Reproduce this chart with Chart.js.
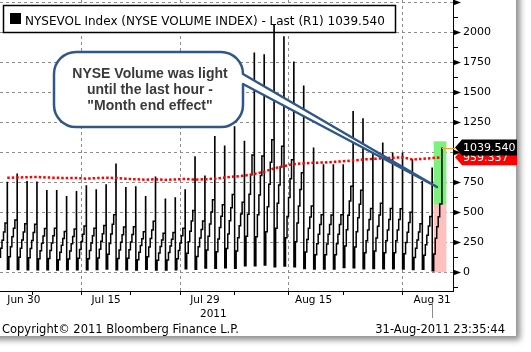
<!DOCTYPE html>
<html>
<head>
<meta charset="utf-8">
<script src="https://cdn.jsdelivr.net/npm/chart.js@4/dist/chart.umd.min.js"></script>
<style>
  html, body { margin: 0; padding: 0; background: #fff; }
  #wrap { width: 531px; height: 352px; }
</style>
</head>
<body>
<div id="wrap"><canvas id="volChart" width="531" height="352"></canvas></div>
<script>
// trading days on the axis (Jun 29 is only partly visible at the left edge)
const dayNames = ['Jun 29', 'Jun 30', 'Jul 1', 'Jul 5', 'Jul 6', 'Jul 7', 'Jul 8', 'Jul 11', 'Jul 12',
    'Jul 13', 'Jul 14', 'Jul 15', 'Jul 18', 'Jul 19', 'Jul 20', 'Jul 21', 'Jul 22', 'Jul 25', 'Jul 26',
    'Jul 27', 'Jul 28', 'Jul 29', 'Aug 1', 'Aug 2', 'Aug 3', 'Aug 4', 'Aug 5', 'Aug 8', 'Aug 9', 'Aug 10',
    'Aug 11', 'Aug 12', 'Aug 15', 'Aug 16', 'Aug 17', 'Aug 18', 'Aug 19', 'Aug 22', 'Aug 23', 'Aug 24',
    'Aug 25', 'Aug 26', 'Aug 29', 'Aug 30', 'Aug 31'];

// intraday sample times, one cumulative value per time per day
const sampleTimes = ['09:30', '10:30', '11:30', '12:30', '13:30', '14:30', '16:00'];

// cumulative NYSE volume through each day (millions)
const dayVolumes = [
    [22, 125, 200, 268, 335, 410, 748],
    [25, 130, 213, 297, 367, 436, 818],
    [24, 125, 200, 270, 335, 405, 755],
    [22, 122, 198, 265, 332, 400, 750],
    [21, 112, 180, 242, 302, 365, 680],
    [22, 115, 182, 245, 305, 368, 680],
    [20, 105, 168, 225, 282, 340, 630],
    [21, 110, 178, 238, 298, 360, 672],
    [22, 118, 190, 255, 318, 385, 719],
    [21, 112, 182, 244, 305, 368, 686],
    [23, 120, 192, 258, 322, 390, 727],
    [28, 150, 240, 320, 400, 480, 900],
    [22, 115, 186, 250, 312, 378, 705],
    [22, 117, 188, 252, 315, 380, 710],
    [20, 104, 167, 224, 280, 338, 630],
    [25, 130, 210, 282, 352, 425, 792],
    [19, 100, 160, 216, 270, 326, 608],
    [20, 102, 164, 220, 275, 332, 620],
    [21, 112, 182, 244, 305, 368, 686],
    [30, 158, 255, 342, 428, 515, 960],
    [25, 132, 212, 285, 356, 428, 800],
    [35, 186, 300, 402, 503, 605, 1130],
    [33, 172, 278, 374, 467, 562, 1050],
    [38, 198, 320, 430, 538, 648, 1210],
    [34, 178, 288, 388, 485, 584, 1090],
    [55, 300, 484, 650, 812, 978, 1825],
    [54, 296, 480, 645, 806, 970, 1810],
    [60, 338, 546, 734, 917, 1104, 2060],
    [47, 367, 575, 727, 880, 1050, 1960],
    [52, 288, 464, 623, 779, 938, 1750],
    [46, 254, 411, 552, 690, 830, 1550],
    [31, 170, 274, 368, 460, 553, 1033],
    [27, 147, 237, 318, 398, 479, 894],
    [27, 146, 236, 318, 398, 478, 894],
    [27, 147, 237, 318, 398, 479, 894],
    [40, 220, 355, 476, 595, 717, 1338],
    [38, 210, 338, 455, 568, 684, 1277],
    [30, 163, 263, 353, 441, 531, 992],
    [32, 177, 285, 383, 478, 576, 1075],
    [30, 163, 263, 353, 441, 531, 992],
    [30, 162, 262, 352, 440, 530, 992],
    [28, 154, 248, 333, 416, 501, 936],
    [23, 124, 200, 269, 336, 404, 755],
    [26, 142, 230, 309, 386, 464, 867],
    [13, 152, 283, 380, 463, 569, 1039.54]
];

// moving average, one value per day (red dotted line)
const movingAverage = [788, 790, 792, 795, 790, 788, 785, 786, 780, 785, 788, 786, 780, 775, 772,
    775, 770, 774, 778, 772, 775, 780, 790, 798, 805, 820, 838, 866, 885, 902, 908, 913, 915, 920,
    925, 932, 940, 945, 950, 955, 958, 940, 945, 952, 959.337];

const lastValue = 1039.540;
const lastAverage = 959.337;
const todayAbove = [569, 1089];   // green box
const todayBelow = [0, 569];      // pink box

const xMajorLabels = ['Jun 30', 'Jul 15', 'Jul 29', 'Aug 15', 'Aug 31'];
const xMinorDays = ['Jul 8', 'Jul 22', 'Aug 8', 'Aug 23'];
const yearLabel = '2011';
const yMajor = [0, 250, 500, 750, 1000, 1250, 1500, 1750, 2000, 2250];
const yMinor = [-125, 125, 375, 625, 875, 1125, 1375, 1625, 1875, 2125];

const legendText = 'NYSEVOL Index (NYSE VOLUME INDEX) - Last (R1) 1039.540';
const calloutLines = ['NYSE Volume was light', 'until the last hour -', '"Month end effect"'];
const copyrightText = 'Copyright\u00a9 2011 Bloomberg Finance L.P.';
const stampText = '31-Aug-2011 23:35:44';

const X_MIN = -0.74, X_MAX = 45.11;
const Y_MIN = -155.8, Y_MAX = 2269.2;
const GRID = '#8c8c8c';
const FONT = 'DejaVu Sans';

const toMinutes = t => { const [h, m] = t.split(':').map(Number); return h * 60 + m; };
const dayPos = name => dayNames.indexOf(name) - 1;
// session 09:30-16:00 spread over one day slot, the close landing on the next open
const timeFrac = sampleTimes.map(t => (toMinutes(t) - 570) / 390 * 0.985 + 0.008);

const volumePoints = [];
dayVolumes.forEach((vals, i) => {
    vals.forEach((v, j) => volumePoints.push({ x: i - 1 + timeFrac[j], y: v }));
});
const maPoints = movingAverage.map((v, i) => ({ x: i - 1 + timeFrac[6], y: v }));
const lastX = dayNames.length - 2 + timeFrac[6];
const boxX = dayPos('Aug 31') + 0.8;

const xLabelAt = new Map();
xMajorLabels.forEach(n => xLabelAt.set(dayPos(n), n));
xMinorDays.forEach(n => xLabelAt.set(dayPos(n), ''));
xLabelAt.set(X_MAX, '');
const xTickValues = [...xLabelAt.keys()].sort((a, b) => a - b);
const yTickValues = [...yMinor, ...yMajor].sort((a, b) => a - b);

const decor = {
    id: 'decor',
    beforeDraw(chart) {
        const { ctx, width, height } = chart;
        ctx.save();
        ctx.fillStyle = '#fff';
        ctx.fillRect(0, 0, width, height);
        ctx.shadowColor = 'rgba(0,0,0,0.45)';
        ctx.shadowBlur = 6;
        ctx.shadowOffsetX = 4;
        ctx.shadowOffsetY = 4;
        ctx.fillRect(-20, -20, 536, 356);
        ctx.restore();
    },
    beforeDatasetsDraw(chart) {
        // legend box sits over the grid but under the data
        const { ctx } = chart;
        ctx.save();
        ctx.fillStyle = '#fff';
        ctx.fillRect(3.5, 5.5, 392, 27);
        ctx.strokeStyle = '#000';
        ctx.lineWidth = 1.5;
        ctx.strokeRect(3.5, 5.5, 392, 27);
        ctx.fillStyle = '#000';
        ctx.fillRect(10, 13, 11, 11);
        ctx.font = `12px "${FONT}"`;
        ctx.textBaseline = 'alphabetic';
        ctx.fillText(legendText, 25, 24.5);
        ctx.restore();
    },
    afterDatasetsDraw(chart) {
        const { ctx } = chart;
        const xs = chart.scales.x, ys = chart.scales.y;
        const axisX = chart.chartArea.right;
        ctx.save();

        // right axis tick marks
        ctx.fillStyle = '#000';
        ctx.strokeStyle = '#000';
        ctx.lineWidth = 1;
        yMajor.forEach(v => {
            const py = Math.round(ys.getPixelForValue(v)) + 0.5;
            ctx.beginPath();
            ctx.moveTo(axisX, py - 3);
            ctx.lineTo(axisX + 8, py);
            ctx.lineTo(axisX, py + 3);
            ctx.closePath();
            ctx.fill();
        });
        yMinor.forEach(v => {
            const py = Math.round(ys.getPixelForValue(v)) + 0.5;
            ctx.beginPath();
            ctx.moveTo(axisX, py);
            ctx.lineTo(axisX + 5, py);
            ctx.stroke();
        });

        // orange connector to the last value
        const yLast = ys.getPixelForValue(lastValue);
        const yAvg = ys.getPixelForValue(lastAverage);
        ctx.strokeStyle = '#ff9a1a';
        ctx.beginPath();
        ctx.moveTo(xs.getPixelForValue(lastX), Math.round(yLast) + 0.5);
        ctx.lineTo(axisX + 2, Math.round(yLast) + 0.5);
        ctx.stroke();

        // value flags on the axis
        const flag = (py, fill, text) => {
            ctx.fillStyle = fill;
            ctx.beginPath();
            ctx.moveTo(axisX + 2, py);
            ctx.lineTo(axisX + 9, py - 8);
            ctx.lineTo(517, py - 8);
            ctx.lineTo(517, py + 8);
            ctx.lineTo(axisX + 9, py + 8);
            ctx.closePath();
            ctx.fill();
            ctx.fillStyle = '#fff';
            ctx.font = `11px "${FONT}"`;
            ctx.textBaseline = 'middle';
            ctx.textAlign = 'left';
            ctx.fillText(text, axisX + 10, py + 0.5);
        };
        flag(yAvg, '#ff0000', lastAverage.toFixed(3));
        flag(yLast, '#000000', lastValue.toFixed(3));

        // callout bubble
        const L = 54, T = 52, R = 243, B = 127, r = 22;
        ctx.beginPath();
        ctx.moveTo(L + r, T);
        ctx.lineTo(R - r, T);
        ctx.arcTo(R, T, R, T + r, r);
        ctx.lineTo(437, 187);
        ctx.lineTo(R, T + 32);
        ctx.lineTo(R, B - r);
        ctx.arcTo(R, B, R - r, B, r);
        ctx.lineTo(L + r, B);
        ctx.arcTo(L, B, L, B - r, r);
        ctx.lineTo(L, T + r);
        ctx.arcTo(L, T, L + r, T, r);
        ctx.closePath();
        ctx.fillStyle = '#fff';
        ctx.fill();
        ctx.lineJoin = 'round';
        ctx.lineWidth = 2.5;
        ctx.strokeStyle = '#2f5787';
        ctx.stroke();
        ctx.fillStyle = '#3a3a3a';
        ctx.font = 'bold 14px "Liberation Sans"';
        ctx.textAlign = 'center';
        ctx.textBaseline = 'alphabetic';
        calloutLines.forEach((s, i) => ctx.fillText(s, 150, 78 + i * 16));

        // year under the axis and the current-day marker
        ctx.fillStyle = '#000';
        ctx.font = `10.5px "${FONT}"`;
        ctx.fillText(yearLabel, xs.getPixelForValue(20.85), 317);
        const mx = Math.round(xs.getPixelForValue(dayPos('Aug 31'))) + 0.5;
        ctx.strokeStyle = '#8c8c8c';
        ctx.lineWidth = 1;
        ctx.beginPath();
        ctx.moveTo(mx, 302);
        ctx.lineTo(mx, 318);
        ctx.stroke();

        // footer
        ctx.font = `11.5px "${FONT}"`;
        ctx.textAlign = 'left';
        ctx.fillText(copyrightText, 2, 333);
        ctx.textAlign = 'right';
        ctx.fillText(stampText, 505, 333);
        ctx.restore();
    }
};

new Chart(document.getElementById('volChart'), {
    type: 'line',
    data: {
        datasets: [
            {
                label: 'Moving average',
                data: maPoints,
                borderColor: '#ff0000',
                borderWidth: 2.5,
                borderDash: [2.5, 2],
                pointRadius: 0,
                tension: 0,
                order: 0
            },
            {
                label: 'NYSEVOL',
                data: volumePoints,
                stepped: 'before',
                borderColor: '#000',
                borderWidth: 1.5,
                pointRadius: 0,
                order: 1
            },
            {
                type: 'bar',
                label: 'Above',
                data: [{ x: boxX, y: todayAbove }],
                backgroundColor: 'rgb(125, 240, 125)',
                barThickness: 12,
                grouped: false,
                order: 2
            },
            {
                type: 'bar',
                label: 'Below',
                data: [{ x: boxX, y: todayBelow }],
                backgroundColor: 'rgb(255, 192, 192)',
                barThickness: 12,
                grouped: false,
                order: 3
            }
        ]
    },
    options: {
        responsive: false,
        animation: false,
        events: [],
        layout: { padding: 0 },
        plugins: { legend: { display: false }, tooltip: { enabled: false } },
        scales: {
            x: {
                type: 'linear',
                min: X_MIN,
                max: X_MAX,
                offset: false,
                afterBuildTicks: s => { s.ticks = xTickValues.map(v => ({ value: v })); },
                afterFit: s => { s.height = 61; s.paddingLeft = 0; s.paddingRight = 0; },
                ticks: {
                    autoSkip: false,
                    maxRotation: 0,
                    align: 'inner',
                    padding: 0,
                    color: '#000',
                    font: { family: FONT, size: 10.5, lineHeight: 1 },
                    callback: v => xLabelAt.get(v) || ''
                },
                grid: {
                    color: c => (c.tick && xLabelAt.get(c.tick.value)) ? GRID : 'rgba(0,0,0,0)',
                    tickColor: c => (c.tick && c.tick.value >= X_MAX) ? 'rgba(0,0,0,0)' : '#000',
                    tickLength: 4,
                    lineWidth: 1
                },
                border: { color: '#000', width: 1, dash: [3, 3] }
            },
            y: {
                type: 'linear',
                position: 'right',
                min: Y_MIN,
                max: Y_MAX,
                afterBuildTicks: s => { s.ticks = yTickValues.map(v => ({ value: v })); },
                afterFit: s => { s.width = 78; s.paddingTop = 0; s.paddingBottom = 0; },
                ticks: {
                    autoSkip: false,
                    padding: 10,
                    color: '#000',
                    font: { family: FONT, size: 11 },
                    callback: v => (v % 250 === 0 && v >= 0 && v <= 2000) ? String(v) : ''
                },
                grid: {
                    drawTicks: false,
                    color: c => (c.tick && c.tick.value % 250 === 0 && c.tick.value >= 0) ? GRID : 'rgba(0,0,0,0)',
                    lineWidth: 1
                },
                border: { color: '#000', width: 1, dash: [3, 3] }
            }
        }
    },
    plugins: [decor]
});
</script>
</body>
</html>
